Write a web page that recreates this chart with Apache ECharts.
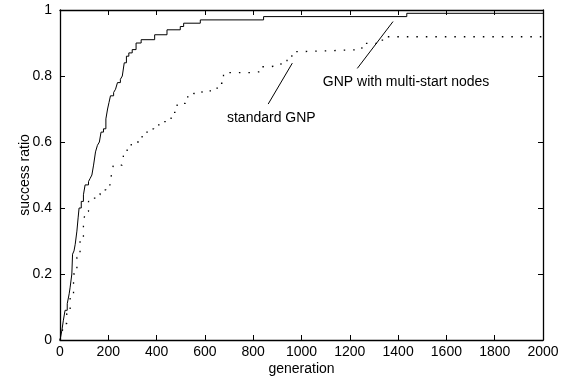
<!DOCTYPE html>
<html>
<head>
<meta charset="utf-8">
<script src="https://cdn.jsdelivr.net/npm/echarts@6/dist/echarts.min.js"></script>
<style>
  html, body { margin: 0; padding: 0; background: #fff; }
  #main { width: 570px; height: 377px; }
</style>
</head>
<body>
<div id="main"></div>
<script>
// multi-start GNP: [generation, success ratio] where each step begins
const multiStart = [
  [0, 0], [8, 0.03], [14, 0.06], [21, 0.09], [30, 0.11], [38, 0.14], [42, 0.16],
  [49, 0.2], [52, 0.26], [58, 0.27], [63, 0.29], [70, 0.33], [75, 0.37], [79, 0.4],
  [88, 0.42], [97, 0.44], [104, 0.47], [118, 0.48], [125, 0.49], [132, 0.5],
  [139, 0.53], [147, 0.57], [155, 0.59], [163, 0.6], [170, 0.63], [180, 0.64],
  [190, 0.67], [197, 0.7], [203, 0.72], [209, 0.74], [222, 0.75], [230, 0.76],
  [238, 0.78], [250, 0.79], [258, 0.8], [266, 0.84], [275, 0.86], [285, 0.87],
  [299, 0.88], [315, 0.9], [336, 0.91], [392, 0.925], [443, 0.94], [498, 0.95],
  [512, 0.96], [581, 0.97], [843, 0.98], [1436, 0.99], [2000, 0.99]
]
// standard GNP
const standard = [
  [0, 0], [8, 0.02], [15, 0.05], [28, 0.08], [42, 0.14], [56, 0.2], [70, 0.25],
  [83, 0.3], [97, 0.35], [104, 0.39], [118, 0.42], [132, 0.43], [150, 0.44],
  [166, 0.455], [190, 0.47], [208, 0.48], [214, 0.505], [221, 0.53], [257, 0.535],
  [264, 0.565], [278, 0.585], [295, 0.6], [340, 0.63], [367, 0.64], [388, 0.652],
  [423, 0.662], [446, 0.67], [460, 0.69], [485, 0.717], [519, 0.737], [553, 0.747],
  [588, 0.755], [643, 0.763], [664, 0.778], [677, 0.81], [788, 0.813], [829, 0.828],
  [870, 0.833], [915, 0.843], [940, 0.853], [960, 0.864], [974, 0.874], [1010, 0.88],
  [1250, 0.899], [1326, 0.909], [1353, 0.919], [2000, 0.919]
]
// annotation pointers and texts, in data units
const stdPointer = [[862, 0.715], [962, 0.839]]
const msPointer = [[1231, 0.823], [1379, 0.965]]
const stdText = { name: 'standard GNP', at: [875, 0.673] }
const msText = { name: 'GNP with multi-start nodes', at: [1433, 0.782] }

const font = 'Liberation Sans, Arial, Helvetica, sans-serif'
const black = '#000'

const chart = echarts.init(document.getElementById('main'))

function axisCommon(extra) {
  return Object.assign({
    type: 'value',
    axisLine: { show: true, onZero: false, lineStyle: { color: black, width: 1.3 } },
    axisTick: { show: true, inside: true, length: 5, lineStyle: { color: black } },
    splitLine: { show: false },
  }, extra)
}

chart.setOption({
  animation: false,
  backgroundColor: '#fff',
  grid: { left: 60, right: 27, top: 10, bottom: 37, outerBoundsMode: 'none' },
  xAxis: [
    axisCommon({
      min: 0, max: 2000, interval: 200,
      name: 'generation',
      nameLocation: 'middle',
      nameGap: 22,
      nameMoveOverlap: false,
      nameTextStyle: { color: black, fontSize: 14, fontFamily: font },
      axisLabel: {
        color: black, fontSize: 14, fontFamily: font, margin: 5,
        formatter: (v) => String(v),
      },
    }),
    axisCommon({
      position: 'top', min: 0, max: 2000, interval: 200,
      axisLabel: { show: false },
    }),
  ],
  yAxis: [
    axisCommon({
      min: 0, max: 1, interval: 0.2,
      name: 'success ratio',
      nameLocation: 'middle',
      nameGap: 28,
      nameMoveOverlap: false,
      nameTextStyle: { color: black, fontSize: 14, fontFamily: font },
      axisLabel: { color: black, fontSize: 14, fontFamily: font, margin: 8 },
    }),
    axisCommon({
      position: 'right', min: 0, max: 1, interval: 0.2,
      axisLabel: { show: false },
    }),
  ],
  series: [
    {
      name: 'GNP with multi-start nodes',
      type: 'line',
      step: 'end',
      showSymbol: false,
      lineStyle: { color: black, width: 1 },
      data: multiStart,
      markLine: {
        silent: true,
        symbol: 'none',
        label: { show: false },
        lineStyle: { color: black, width: 1, type: 'solid' },
        data: [
          [{ coord: msPointer[0] }, { coord: msPointer[1] }],
        ],
      },
    },
    {
      name: 'standard GNP',
      type: 'line',
      step: 'end',
      showSymbol: false,
      lineStyle: { color: black, width: 1.3, type: [1.5, 8] },
      data: standard,
      markLine: {
        silent: true,
        symbol: 'none',
        label: { show: false },
        lineStyle: { color: black, width: 1, type: 'solid' },
        data: [
          [{ coord: stdPointer[0] }, { coord: stdPointer[1] }],
        ],
      },
    },
  ],
})

// texts placed at the data positions
const labels = [stdText, msText].map((t) => {
  const p = chart.convertToPixel({ gridIndex: 0 }, t.at)
  return {
    type: 'text',
    x: p[0],
    y: p[1],
    style: {
      text: t.name,
      fill: black,
      font: '14px ' + font,
      align: 'center',
      verticalAlign: 'middle',
    },
  }
})
chart.setOption({ graphic: labels })
</script>
</body>
</html>
